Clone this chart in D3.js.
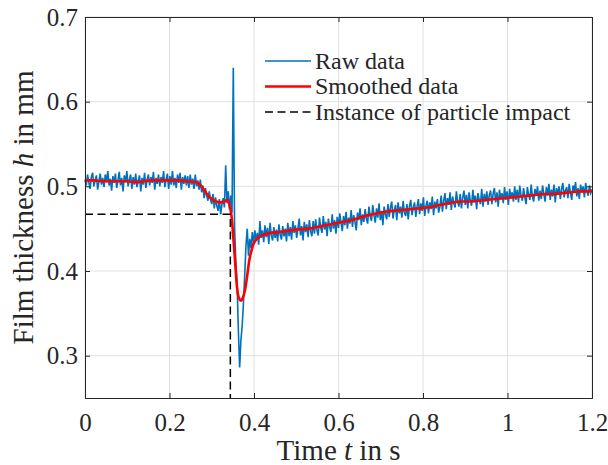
<!DOCTYPE html>
<html>
<head>
<meta charset="utf-8">
<script src="https://cdn.jsdelivr.net/npm/d3@7"></script>
<style>
    body { margin: 0; background: #fff; }
    #chart-area { width: 608px; height: 465px; }
    text { font-family: "Liberation Serif", "DejaVu Serif", serif; fill: #262626; }
</style>
</head>
<body>
<div id="chart-area"></div>
<script>

// raw film thickness, sampled every 3 ms starting at t = 0
let rawStep = 0.003;
let rawH = [
    0.508,0.501,0.514,0.505,0.497,0.511,0.516,0.500,0.507,0.513,0.496,0.506,0.515,0.502,0.510,0.499,0.514,0.505,0.518,0.501,
    0.509,0.495,0.512,0.504,0.515,0.498,0.507,0.517,0.501,0.510,0.494,0.513,0.505,0.518,0.500,0.508,0.514,0.497,0.511,0.502,
    0.515,0.499,0.507,0.513,0.494,0.510,0.502,0.516,0.498,0.508,0.514,0.501,0.511,0.504,0.517,0.496,0.510,0.503,0.514,0.500,
    0.511,0.504,0.518,0.499,0.508,0.515,0.497,0.512,0.502,0.518,0.501,0.510,0.498,0.514,0.504,0.516,0.496,0.511,0.503,0.513,
    0.501,0.512,0.498,0.514,0.502,0.509,0.497,0.514,0.500,0.507,0.496,0.508,0.493,0.501,0.486,0.498,0.489,0.483,0.494,0.485,
    0.479,0.491,0.474,0.487,0.477,0.471,0.485,0.467,0.478,0.486,0.475,0.525,0.480,0.494,0.473,0.489,0.469,0.640,0.452,0.410,
    0.385,0.330,0.286,0.318,0.335,0.362,0.395,0.430,0.450,0.418,0.438,0.427,0.446,0.432,0.448,0.436,0.445,0.431,0.459,0.439,
    0.448,0.434,0.454,0.440,0.451,0.432,0.457,0.442,0.436,0.452,0.439,0.449,0.435,0.455,0.443,0.437,0.453,0.441,0.450,0.435,
    0.457,0.441,0.452,0.437,0.459,0.445,0.454,0.439,0.450,0.462,0.442,0.453,0.436,0.458,0.446,0.455,0.440,0.460,0.447,0.441,
    0.459,0.444,0.461,0.448,0.442,0.463,0.451,0.445,0.465,0.449,0.458,0.441,0.462,0.452,0.446,0.467,0.450,0.460,0.444,0.464,
    0.451,0.468,0.457,0.447,0.465,0.454,0.470,0.450,0.463,0.456,0.472,0.452,0.466,0.458,0.448,0.469,0.460,0.474,0.454,0.467,
    0.458,0.473,0.462,0.456,0.476,0.465,0.459,0.478,0.466,0.457,0.474,0.463,0.480,0.460,0.471,0.454,0.476,0.467,0.461,0.479,
    0.464,0.475,0.482,0.462,0.472,0.478,0.460,0.481,0.468,0.476,0.463,0.483,0.469,0.465,0.479,0.461,0.477,0.484,0.466,0.475,
    0.481,0.464,0.476,0.485,0.467,0.480,0.471,0.487,0.465,0.477,0.483,0.468,0.481,0.473,0.488,0.466,0.482,0.474,0.485,0.469,
    0.476,0.489,0.470,0.483,0.492,0.473,0.486,0.478,0.493,0.472,0.488,0.480,0.475,0.494,0.482,0.476,0.491,0.474,0.487,0.495,
    0.478,0.490,0.474,0.493,0.483,0.477,0.496,0.481,0.489,0.473,0.492,0.484,0.479,0.497,0.476,0.491,0.482,0.494,0.478,0.490,
    0.495,0.479,0.491,0.498,0.481,0.493,0.476,0.496,0.485,0.492,0.480,0.499,0.484,0.494,0.478,0.497,0.486,0.493,0.482,0.500,
    0.484,0.496,0.481,0.501,0.489,0.483,0.498,0.487,0.479,0.499,0.490,0.484,0.502,0.488,0.482,0.497,0.489,0.500,0.483,0.495,
    0.485,0.501,0.491,0.482,0.499,0.489,0.503,0.484,0.496,0.488,0.502,0.481,0.498,0.490,0.500,0.485,0.497,0.504,0.487,0.495,
    0.499,0.486,0.503,0.492,0.484,0.501,0.494,0.505,0.488,0.498,0.485,0.502,0.493,0.500,0.487,0.504,0.494,0.489,0.501,0.492,
    0.496
];

// smoothed curve
let smoothT = [0, 0.02, 0.04, 0.06, 0.08, 0.10, 0.12, 0.14, 0.16, 0.18, 0.20, 0.22, 0.24, 0.26, 0.27,
    0.28, 0.29, 0.30, 0.31, 0.32, 0.33, 0.337, 0.342, 0.347, 0.351, 0.355, 0.36, 0.365, 0.369, 0.374,
    0.379, 0.384, 0.389, 0.394, 0.398, 0.405, 0.414, 0.425, 0.438, 0.46, 0.485, 0.51, 0.53, 0.55, 0.57,
    0.59, 0.61, 0.63, 0.65, 0.67, 0.69, 0.71, 0.73, 0.75, 0.77, 0.79, 0.81, 0.83, 0.85, 0.87,
    0.89, 0.91, 0.93, 0.95, 0.97, 0.99, 1.01, 1.03, 1.05, 1.07, 1.09, 1.11, 1.13, 1.15, 1.17, 1.19, 1.2];
let smoothH = [0.507, 0.507, 0.506, 0.506, 0.506, 0.506, 0.505, 0.506, 0.507, 0.507, 0.507, 0.507, 0.506, 0.505, 0.503,
    0.497, 0.490, 0.485, 0.482, 0.481, 0.482, 0.484, 0.478, 0.464, 0.440, 0.413, 0.380, 0.367, 0.365, 0.369,
    0.378, 0.395, 0.413, 0.424, 0.431, 0.437, 0.441, 0.443, 0.445, 0.446, 0.448, 0.4495, 0.450, 0.452, 0.454,
    0.456, 0.458, 0.460, 0.463, 0.466, 0.468, 0.470, 0.471, 0.472, 0.473, 0.474, 0.475, 0.477, 0.479, 0.481,
    0.482, 0.482, 0.483, 0.484, 0.485, 0.486, 0.487, 0.488, 0.489, 0.490, 0.491, 0.491, 0.492, 0.493, 0.494, 0.494, 0.495];

// particle impact marker
let impactT = 0.344;
let impactH = 0.467;

let xTicks = [0, 0.2, 0.4, 0.6, 0.8, 1, 1.2];
let yTicks = [0.3, 0.4, 0.5, 0.6, 0.7];
let legendLabels = ["Raw data", "Smoothed data", "Instance of particle impact"];

const serif = '"Liberation Serif", "DejaVu Serif", serif';

class FilmVis {

    constructor(parentElement) {
        this.parentElement = parentElement;
        this.initVis();
    }

    initVis() {
        let vis = this;

        vis.margin = {top: 17, right: 16, bottom: 67, left: 85};
        vis.width = 608 - vis.margin.left - vis.margin.right;
        vis.height = 465 - vis.margin.top - vis.margin.bottom;

        vis.svg = d3.select("#" + vis.parentElement).append("svg")
            .attr("width", 608)
            .attr("height", 465)
            .append("g")
            .attr("transform", "translate(" + vis.margin.left + "," + vis.margin.top + ")");

        vis.x = d3.scaleLinear().domain([0, 1.2]).range([0, vis.width]);
        vis.y = d3.scaleLinear().domain([0.25, 0.7]).range([vis.height, 0]);

        // grid
        vis.svg.append("g").selectAll("line.gx")
            .data(xTicks)
            .enter().append("line")
            .attr("x1", d => vis.x(d)).attr("x2", d => vis.x(d))
            .attr("y1", 0).attr("y2", vis.height)
            .attr("stroke", "#e0e0e0");

        vis.svg.append("g").selectAll("line.gy")
            .data(yTicks)
            .enter().append("line")
            .attr("x1", 0).attr("x2", vis.width)
            .attr("y1", d => vis.y(d)).attr("y2", d => vis.y(d))
            .attr("stroke", "#e0e0e0");

        vis.wrangleData();
    }

    wrangleData() {
        let vis = this;

        vis.rawData = rawH.map((h, i) => ({t: i * rawStep, h: h}));
        vis.smoothData = smoothT.map((t, i) => ({t: t, h: smoothH[i]}));
        vis.impactData = [
            {t: 0, h: impactH},
            {t: impactT, h: impactH},
            {t: impactT, h: 0.25}
        ];

        vis.updateVis();
    }

    updateVis() {
        let vis = this;

        let line = d3.line()
            .x(d => vis.x(d.t))
            .y(d => vis.y(d.h));

        vis.svg.append("path")
            .datum(vis.rawData)
            .attr("d", line)
            .attr("fill", "none")
            .attr("stroke", "#0072BD")
            .attr("stroke-width", 1.6);

        vis.svg.append("path")
            .datum(vis.smoothData)
            .attr("d", line.curve(d3.curveMonotoneX))
            .attr("fill", "none")
            .attr("stroke", "#FF0000")
            .attr("stroke-width", 2.6);

        vis.svg.append("path")
            .datum(vis.impactData)
            .attr("d", d3.line().x(d => vis.x(d.t)).y(d => vis.y(d.h)))
            .attr("fill", "none")
            .attr("stroke", "#000")
            .attr("stroke-width", 1.5)
            .attr("stroke-dasharray", "8,4.5");

        // axes, MATLAB-like box with inward ticks
        let tickLen = 5;
        let fmt = d => d3.format("")(+d.toFixed(1));

        let xBottom = vis.svg.append("g")
            .attr("transform", `translate(0,${vis.height})`)
            .call(d3.axisBottom(vis.x).tickValues(xTicks).tickSize(-tickLen).tickPadding(15).tickFormat(fmt));
        let xTop = vis.svg.append("g")
            .call(d3.axisTop(vis.x).tickValues(xTicks).tickSize(-tickLen).tickFormat(""));
        let yLeft = vis.svg.append("g")
            .call(d3.axisLeft(vis.y).tickValues(yTicks).tickSize(-tickLen).tickPadding(7).tickFormat(fmt));
        let yRight = vis.svg.append("g")
            .attr("transform", `translate(${vis.width},0)`)
            .call(d3.axisRight(vis.y).tickValues(yTicks).tickSize(-tickLen).tickFormat(""));

        [xBottom, xTop, yLeft, yRight].forEach(a => {
            a.attr("font-family", null);
            a.select(".domain").attr("stroke", "#262626").attr("stroke-width", 1);
            a.selectAll(".tick line").attr("stroke", "#262626");
            a.selectAll(".tick text")
                .attr("fill", "#262626")
                .style("font-family", serif)
                .style("font-size", "25px");
        });

        // axis labels
        let xLabel = vis.svg.append("text")
            .attr("x", vis.width / 2)
            .attr("y", vis.height + 62)
            .attr("text-anchor", "middle")
            .style("font-family", serif)
            .style("font-size", "29px");
        xLabel.append("tspan").text("Time ");
        xLabel.append("tspan").style("font-style", "italic").text("t");
        xLabel.append("tspan").text(" in s");

        let yLabel = vis.svg.append("text")
            .attr("transform", `translate(-52,${vis.height / 2}) rotate(-90)`)
            .attr("text-anchor", "middle")
            .style("font-family", serif)
            .style("font-size", "29px");
        yLabel.append("tspan").text("Film thickness ");
        yLabel.append("tspan").style("font-style", "italic").text("h");
        yLabel.append("tspan").text(" in mm");

        // legend
        let legend = vis.svg.append("g")
            .attr("class", "legend")
            .attr("transform", "translate(180,44)");

        let legendStyles = [
            {stroke: "#0072BD", width: 1.5, dash: null},
            {stroke: "#FF0000", width: 2.6, dash: null},
            {stroke: "#000", width: 1.5, dash: "8,4.5"}
        ];

        let rows = legend.selectAll("g")
            .data(legendLabels)
            .enter().append("g")
            .attr("transform", (d, i) => `translate(0,${i * 25.5})`);

        rows.append("line")
            .attr("x1", 0).attr("x2", 46)
            .attr("stroke", (d, i) => legendStyles[i].stroke)
            .attr("stroke-width", (d, i) => legendStyles[i].width)
            .attr("stroke-dasharray", (d, i) => legendStyles[i].dash);

        rows.append("text")
            .attr("x", 50)
            .attr("dy", "0.33em")
            .style("font-family", serif)
            .style("font-size", "24px")
            .text(d => d);
    }
}

new FilmVis("chart-area");
</script>
</body>
</html>
